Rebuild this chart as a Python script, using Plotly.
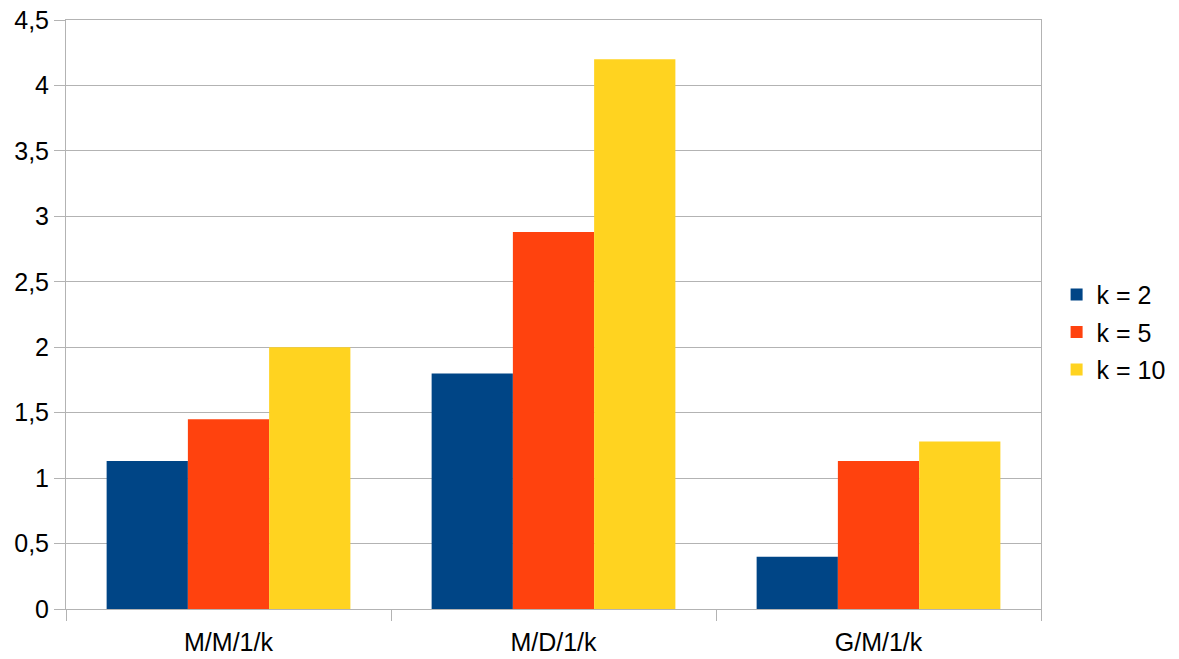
import plotly.graph_objects as go

# Queue models and mean values per buffer size k
categories = ["M/M/1/k", "M/D/1/k", "G/M/1/k"]
series_names = ["k = 2", "k = 5", "k = 10"]
k2_values = [1.13, 1.80, 0.40]
k5_values = [1.45, 2.88, 1.13]
k10_values = [2.00, 4.20, 1.28]
colors = ["#004586", "#ff420e", "#ffd320"]
y_ticks = [0, 0.5, 1, 1.5, 2, 2.5, 3, 3.5, 4, 4.5]

font_family = "Liberation Sans, Arial, sans-serif"
grid_color = "#b3b3b3"
text_size = 25

fig = go.Figure()
for i, (name, vals) in enumerate(zip(series_names, [k2_values, k5_values, k10_values])):
    fig.add_trace(go.Bar(
        x=categories,
        y=vals,
        name=name,
        marker=dict(color=colors[i], line=dict(width=0)),
        legendgroup=name,
    ))

fig.update_layout(
    width=1179,
    height=659,
    margin=dict(l=66, r=138, t=20, b=50, autoexpand=False),
    paper_bgcolor="white",
    plot_bgcolor="white",
    barmode="group",
    bargap=0.25,
    bargroupgap=0,
    separators=", ",
    font=dict(family=font_family, size=text_size, color="#000000"),
    showlegend=True,
    legend=dict(
        x=1.016,
        xanchor="left",
        y=0.47,
        yanchor="middle",
        font=dict(family=font_family, size=text_size, color="#000000"),
        tracegroupgap=2,
        itemwidth=30,
        bgcolor="rgba(0,0,0,0)",
    ),
)

fig.update_xaxes(
    type="category",
    automargin=False,
    showgrid=False,
    showline=True,
    linecolor=grid_color,
    linewidth=1,
    mirror=True,
    ticks="outside",
    tickson="boundaries",
    ticklen=11,
    tickcolor=grid_color,
    ticklabelstandoff=11,
    tickfont=dict(family=font_family, size=text_size, color="#000000"),
)

fig.update_yaxes(
    range=[0, 4.5],
    automargin=False,
    tickvals=y_ticks,
    showgrid=True,
    gridcolor=grid_color,
    gridwidth=1,
    zeroline=False,
    showline=True,
    linecolor=grid_color,
    linewidth=1,
    mirror=True,
    ticks="outside",
    ticklen=11,
    tickcolor=grid_color,
    tickfont=dict(family=font_family, size=text_size, color="#000000"),
)

fig.write_html("out.html")
